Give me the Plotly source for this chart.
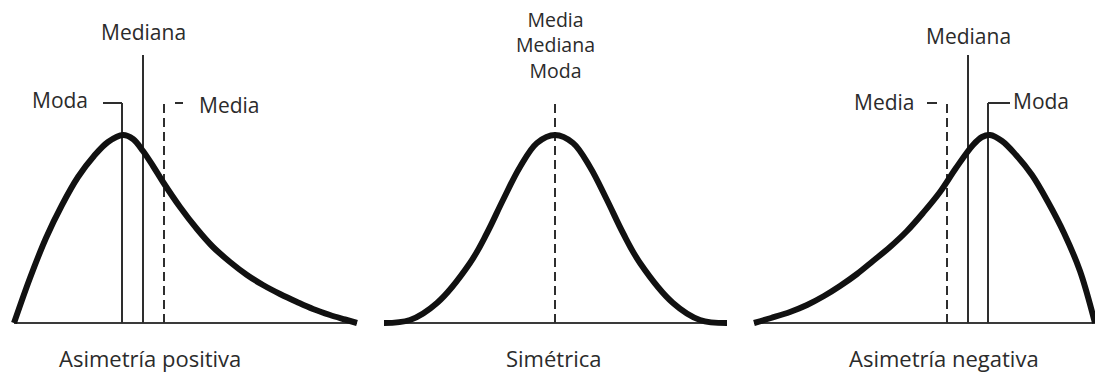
import plotly.graph_objects as go

# Density curves: horizontal position and height above the baseline
pos_x = [14, 30, 46, 62, 78, 94, 108, 123, 133, 143, 153, 163, 180, 197, 213, 230,
         247, 263, 280, 297, 313, 330, 345, 357]
pos_h = [0, 45, 85, 118, 146, 167, 181, 188, 184, 172, 157, 141, 116, 94, 76, 61,
         48, 38, 29, 21, 14, 8, 3.5, 0]

sym_x = [384, 410, 437, 470, 487, 503, 520, 537, 555, 573, 590, 607, 623, 640, 673, 700, 727]
sym_h = [0, 3, 20, 60, 90, 123, 156, 180, 188, 180, 156, 123, 90, 60, 20, 3, 0]

neg_x = [754, 771, 790, 807, 824, 840, 857, 873, 890, 907, 923, 940, 956, 973, 982, 990,
         1002, 1016, 1032, 1048, 1064, 1080, 1095]
neg_h = [0, 5, 11, 18, 27, 37, 49, 62, 76, 92, 110, 131, 155, 178, 186, 188,
         182, 168, 148, 121, 90, 52, 0]

# Baselines of the three panels (start, end)
base_start = [14, 384, 754]
base_end = [357, 727, 1095]

# Positions of the central tendency measures
moda_x = [122, 988]
mediana_x = [143, 968]
media_x = [164, 947]
sym_center = 555
moda_top = 220
mediana_top = 268
media_top = 220

# Short leader marks next to the labels
moda_leader = [(103, 122), (988, 1010)]
media_leader = [(175, 183), (927, 937)]

# Captions
captions = ["Asimetría positiva", "Simétrica", "Asimetría negativa"]
caption_x = [150, 554, 944]

CURVE = "#111111"
THIN = "#2e2e2e"
TEXT = "#2b2b2b"
FONT = "Open Sans"

fig = go.Figure()

# baselines
for x0, x1 in zip(base_start, base_end):
    fig.add_trace(go.Scatter(x=[x0, x1], y=[0, 0], mode="lines",
                             line=dict(color="#3a3a3a", width=2)))

# solid marker lines
for xv in moda_x:
    fig.add_trace(go.Scatter(x=[xv, xv], y=[0, moda_top], mode="lines",
                             line=dict(color=THIN, width=2)))
for xv in mediana_x:
    fig.add_trace(go.Scatter(x=[xv, xv], y=[0, mediana_top], mode="lines",
                             line=dict(color=THIN, width=2)))
for xa, xb in moda_leader:
    fig.add_trace(go.Scatter(x=[xa, xb], y=[moda_top, moda_top], mode="lines",
                             line=dict(color=THIN, width=2)))

# dashed mean lines
for xv in media_x + [sym_center]:
    fig.add_trace(go.Scatter(x=[xv, xv], y=[0, media_top], mode="lines",
                             line=dict(color=THIN, width=2, dash="9px,5px")))
for xa, xb in media_leader:
    fig.add_trace(go.Scatter(x=[xa, xb], y=[media_top, media_top], mode="lines",
                             line=dict(color=THIN, width=2)))

# curves on top
for xs, ys in [(pos_x, pos_h), (sym_x, sym_h), (neg_x, neg_h)]:
    fig.add_trace(go.Scatter(x=xs, y=ys, mode="lines",
                             line=dict(color=CURVE, width=6, shape="spline", smoothing=1.0)))


def label(text, x, y, size=21):
    fig.add_annotation(x=x, y=y, text=text, showarrow=False, xanchor="center",
                       yanchor="middle", font=dict(family=FONT, size=size, color=TEXT))


label("Moda", 60, 223)
label("Mediana", 143, 291)
label("Media", 229, 218)
label("Media<br>Mediana<br>Moda", sym_center, 278, size=19.5)
label("Media", 884, 221)
label("Mediana", 968, 287)
label("Moda", 1041, 222)

for txt, cx in zip(captions, caption_x):
    fig.add_annotation(x=cx, y=-35, text=txt, showarrow=False, xanchor="center",
                       yanchor="middle", font=dict(family=FONT, size=22, color=TEXT))

fig.update_layout(
    width=1095, height=374,
    margin=dict(l=0, r=0, t=0, b=0),
    paper_bgcolor="white", plot_bgcolor="white",
    showlegend=False,
    xaxis=dict(range=[0, 1095], visible=False, fixedrange=True),
    yaxis=dict(range=[-51, 323], visible=False, fixedrange=True),
)

fig.write_html("out.html")
